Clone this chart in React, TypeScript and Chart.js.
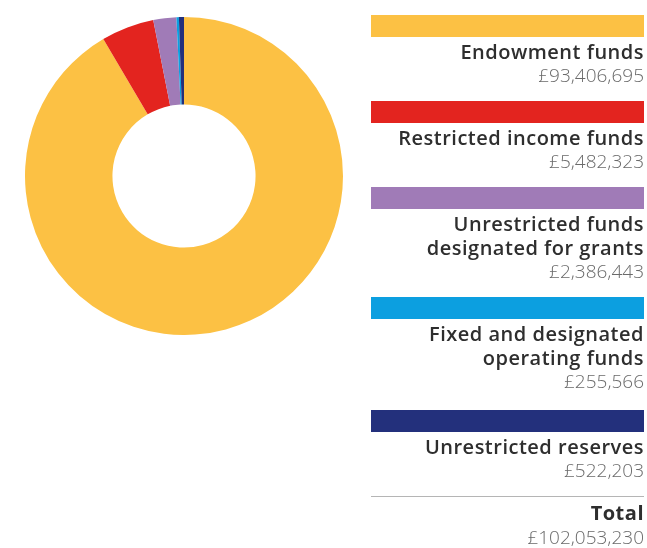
import React, { useEffect, useRef } from "react";
import { Chart, registerables } from "chart.js";

Chart.register(...registerables);

const categories = [
  "Endowment funds",
  "Restricted income funds",
  "Unrestricted funds designated for grants",
  "Fixed and designated operating funds",
  "Unrestricted reserves",
];
const labelLines = [
  ["Endowment funds"],
  ["Restricted income funds"],
  ["Unrestricted funds", "designated for grants"],
  ["Fixed and designated", "operating funds"],
  ["Unrestricted reserves"],
];
const values = [93406695, 5482323, 2386443, 255566, 522203];
const colors = ["#FCC144", "#E3241F", "#A07BB7", "#0C9FE0", "#23307C"];
const totalLabel = "Total";
const totalValue = 102053230;

const fmt = (v: number) => "£" + v.toLocaleString("en-GB");

const FONT = "'Open Sans', 'Noto Sans', sans-serif";

const labelStyle = {
  fontSize: 20,
  lineHeight: "24px",
  fontWeight: 600,
  letterSpacing: "0.5px",
  color: "#2e2e2e",
};
const valueStyle = {
  fontSize: 19,
  lineHeight: "22px",
  fontWeight: 300,
  color: "#6a6a6a",
};

export default function App() {
  const ref = useRef<HTMLCanvasElement | null>(null);

  useEffect(() => {
    if (!ref.current) return;
    const chart = new Chart(ref.current, {
      type: "doughnut",
      data: {
        labels: categories,
        datasets: [
          {
            data: values,
            backgroundColor: colors,
            borderWidth: 0,
          },
        ],
      },
      options: {
        animation: false,
        responsive: true,
        maintainAspectRatio: false,
        cutout: "45%",
        layout: { padding: 0 },
        plugins: {
          legend: { display: false },
          tooltip: { enabled: false },
        },
      },
    });
    return () => chart.destroy();
  }, []);

  return (
    <div
      style={{
        position: "fixed",
        left: 0,
        top: 0,
        width: 647,
        height: 548,
        background: "#fff",
        fontFamily: FONT,
      }}
    >
      <div style={{ position: "absolute", left: 25, top: 17, width: 318, height: 318 }}>
        <canvas ref={ref} />
      </div>
      <div
        style={{
          position: "absolute",
          left: 371,
          top: 15,
          width: 273,
          textAlign: "right",
        }}
      >
        {categories.map((c, i) => (
          <div key={c} style={{ marginBottom: i === categories.length - 2 ? 18 : 15 }}>
            <div style={{ height: 22, background: colors[i] }} />
            <div style={{ marginTop: 3 }}>
              {labelLines[i].map((l) => (
                <div key={l} style={labelStyle}>
                  {l}
                </div>
              ))}
              <div style={valueStyle}>{fmt(values[i])}</div>
            </div>
          </div>
        ))}
        <div style={{ borderTop: "1px solid #b5b5b5", marginTop: 5, paddingTop: 4 }}>
          <div style={{ ...labelStyle, fontWeight: 700 }}>{totalLabel}</div>
          <div style={{ ...valueStyle, lineHeight: "24px" }}>{fmt(totalValue)}</div>
        </div>
      </div>
    </div>
  );
}
